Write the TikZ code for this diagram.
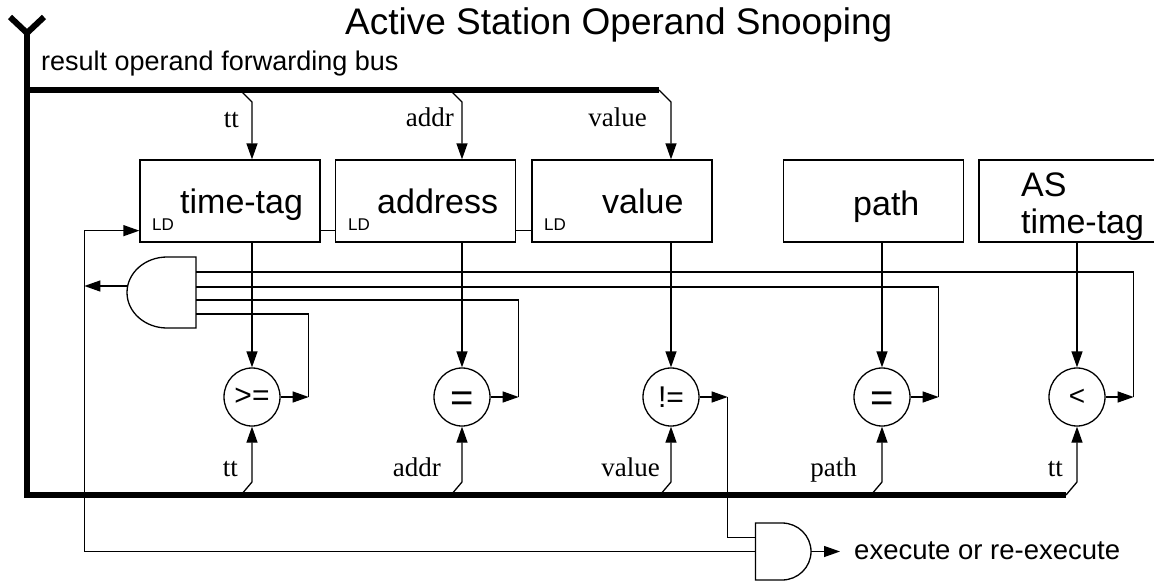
\documentclass[tikz,border=0pt]{standalone}
\usepackage{fontspec}
\setmainfont{Liberation Sans}
\newfontfamily\tagfont{Liberation Serif}
\usepackage{tikz}
\usetikzlibrary{arrows}
\usetikzlibrary{arrows.meta}
\usetikzlibrary{positioning, shapes.geometric}
\tikzset{
reg/.style = { rectangle, draw = black, fill = white, line width = 1.3pt, minimum width = 180pt, minimum height = 82pt, inner sep = 0pt },
cmp/.style = { ellipse, draw = black, fill = white, line width = 1.3pt, minimum width = 56pt, minimum height = 58pt, inner sep = 0pt, font = \fontsize{30}{30}\selectfont },
bigeq/.style = { font = \fontsize{40}{40}\selectfont, text height = 28pt, text depth = 0pt },
wire/.style = { draw = black, line width = 1.3pt },
arr/.style = { -{Triangle[length = 16pt, width = 11pt]} },
bus/.style = { draw = black, line width = 6pt, line join = miter },
regtext/.style = { inner sep = 0pt, anchor = base west, font = \fontsize{34}{37}\selectfont },
ldtext/.style = { inner sep = 0pt, anchor = base west, font = \fontsize{17}{17}\selectfont },
tag/.style = { inner sep = 0pt, anchor = base east, font = \tagfont\fontsize{27}{27}\selectfont },
}
\tikzset{
pics/and left/.style = {
        code = {
        \path[draw = black, line width = 1.3pt] (0, -35.5) -- (-29, -35.5) arc[start angle = -90, end angle = -270, x radius = 40, y radius = 35.5] -- (0, 35.5) -- cycle;
        \coordinate (-out) at (-68.3, -6.5);
        \coordinate (-in1) at (0, -20.5);
        \coordinate (-in2) at (0, -5.5);
        \coordinate (-in3) at (0, 7.5);
        \coordinate (-in4) at (0, 21.5);
        }
    },
pics/and right/.style = {
        code = {
        \path[draw = black, line width = 1.3pt] (0, -28.5) -- (26.5, -28.5) arc[start angle = -90, end angle = 90, x radius = 29, y radius = 28.5] -- (0, 28.5) -- cycle;
        \coordinate (-out) at (55.5, 0);
        \coordinate (-in1) at (0, -14);
        \coordinate (-in2) at (0, 0);
        }
    }
}
\begin{document}
\begin{tikzpicture}[x = 1pt, y = -1pt]
    \useasboundingbox (0, 0) rectangle (1154, 581);
    \node[anchor = base west, inner sep = 0pt, font = \fontsize{37}{40}\selectfont] (title) at (345, 34) {Active Station Operand Snooping};
    \node[anchor = base west, inner sep = 0pt, font = \fontsize{27}{27}\selectfont] (buslabel) at (41, 70) {result operand forwarding bus};
    \coordinate (fork) at (27, 33);
    \coordinate (top) at (27, 90);
    \coordinate (bot) at (27, 495);
    \node[reg] (ttreg) at (230, 201) {};
    \node[reg] (adreg) at (425.5, 201) {};
    \node[reg] (vlreg) at (622, 201) {};
    \node[reg] (ptreg) at (873.5, 201) {};
    \node[reg] (asreg) at (1069, 201) {};
    \node[regtext] (tttxt) at (180, 213) {time-tag};
    \node[regtext] (adtxt) at (377, 213) {address};
    \node[regtext] (vltxt) at (602, 213) {value};
    \node[regtext] (pttxt) at (853, 215) {path};
    \node[regtext] (astxt) at (1021, 196) {AS};
    \node[regtext] (astxtb) at (1021, 233) {time-tag};
    \node[ldtext] (ttld) at (152, 230) {LD};
    \node[ldtext] (adld) at (348, 230) {LD};
    \node[ldtext] (vlld) at (544, 230) {LD};
    \node[cmp] (ge) at (252, 397) {>=};
    \node[cmp, bigeq] (eqa) at (462, 397) {=};
    \node[cmp] (ne) at (671, 397) {!=};
    \node[cmp, bigeq] (eqp) at (882, 397) {=};
    \node[cmp, font = \fontsize{28}{28}\selectfont] (lt) at (1077, 397) {<};
    \node[tag] (tta) at (239, 127) {tt};
    \node[tag] (ada) at (454, 126) {addr};
    \node[tag] (vla) at (647, 126) {value};
    \node[tag] (ttb) at (238, 476) {tt};
    \node[tag] (adb) at (441, 476) {addr};
    \node[tag] (vlb) at (660, 476) {value};
    \node[tag] (ptb) at (857, 476) {path};
    \node[tag] (asb) at (1063, 476) {tt};
    \pic (andl) at (196, 292.5) {and left};
    \pic (andr) at (755.5, 551.5) {and right};
    \node[anchor = base west, inner sep = 0pt, font = \fontsize{27.5}{28}\selectfont] (exec) at (854, 559) {execute or re-execute};
    \path[bus] (10, 17) -- (fork) -- (44, 17);
    \path[bus] (fork) -- (bot) -- ([xshift = -11pt]lt.south |- bot);
    \path[bus] (top) -- ([xshift = -12pt]ne.north |- top);
    \draw[wire, arr] ([xshift = -12pt]ge.north |- top) -- ++(12, 12) -- (ge.north |- ttreg.north);
    \draw[wire, arr] ([xshift = -12pt]eqa.north |- top) -- ++(12, 12) -- (eqa.north |- adreg.north);
    \draw[wire, arr] ([xshift = -12pt]ne.north |- top) -- ++(12, 12) -- (ne.north |- vlreg.north);
    \draw[wire] ([yshift = 12pt]ttreg.south east) -- ([yshift = 12pt]adreg.south west);
    \draw[wire] ([yshift = 12pt]adreg.south east) -- ([yshift = 12pt]vlreg.south west);
    \draw[wire, arr] (ge.north |- ttreg.south) -- (ge.north);
    \draw[wire, arr] (eqa.north |- adreg.south) -- (eqa.north);
    \draw[wire, arr] (ne.north |- vlreg.south) -- (ne.north);
    \draw[wire, arr] (eqp.north |- ptreg.south) -- (eqp.north);
    \draw[wire, arr] (lt.north |- asreg.south) -- (lt.north);
    \draw[wire, arr] ([xshift = -11pt]ge.south |- bot) -- ++(11, -13) -- (ge.south);
    \draw[wire, arr] ([xshift = -11pt]eqa.south |- bot) -- ++(11, -13) -- (eqa.south);
    \draw[wire, arr] ([xshift = -11pt]ne.south |- bot) -- ++(11, -13) -- (ne.south);
    \draw[wire, arr] ([xshift = -11pt]eqp.south |- bot) -- ++(11, -13) -- (eqp.south);
    \draw[wire, arr] ([xshift = -11pt]lt.south |- bot) -- ++(11, -13) -- (lt.south);
    \draw[wire, arr] (ge.east) -- ++(28, 0) coordinate (geo);
    \draw[wire, arr] (eqa.east) -- ++(28, 0) coordinate (eqao);
    \draw[wire, arr] (ne.east) -- ++(28, 0) coordinate (neo);
    \draw[wire, arr] (eqp.east) -- ++(28, 0) coordinate (eqpo);
    \draw[wire, arr] (lt.east) -- ++(28, 0) coordinate (lto);
    \draw[wire] (geo) |- (andl-in4);
    \draw[wire] (eqao) |- (andl-in3);
    \draw[wire] (eqpo) |- (andl-in2);
    \draw[wire] (lto) |- (andl-in1);
    \draw[wire] (neo) |- (andr-in1);
    \coordinate (fb) at ([xshift = -55pt, yshift = 12pt]ttreg.south west);
    \draw[wire, arr] (andr-in2) -| (fb) -- (fb -| ttreg.west);
    \draw[wire, arr] (andl-out) -- (andl-out -| fb);
    \draw[wire, arr] (andr-out) -- ([xshift = -14pt]exec.west |- andr-out);
  \end{tikzpicture}
\end{document}
